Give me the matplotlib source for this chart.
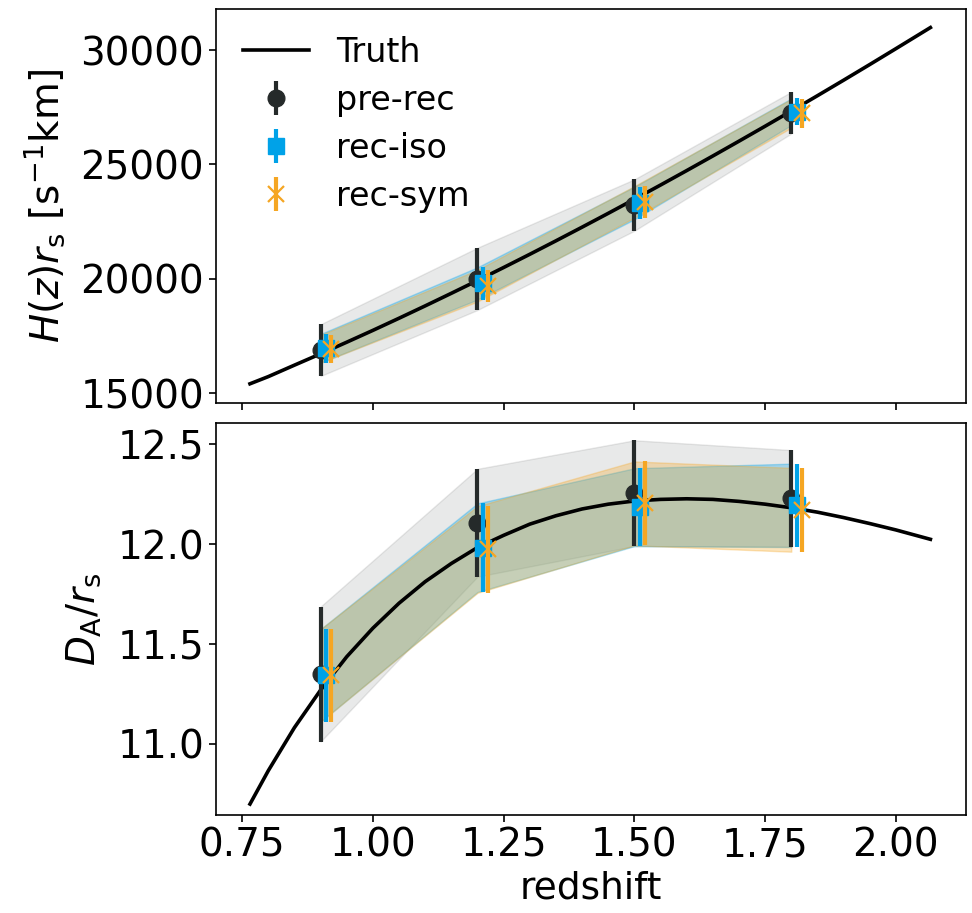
import numpy as np
import matplotlib
matplotlib.use("Agg")
import matplotlib.pyplot as plt

# ---------------- data ----------------
z_bins = [0.9, 1.2, 1.5, 1.8]
z_offsets = [0.0, 0.01, 0.02]          # pre-rec, rec-iso, rec-sym

# truth curves
z_truth = [0.765, 0.80, 0.85, 0.90, 0.95, 1.00, 1.05, 1.10, 1.15, 1.20, 1.25, 1.30,
           1.35, 1.40, 1.45, 1.50, 1.55, 1.60, 1.65, 1.70, 1.75, 1.80, 1.85, 1.90,
           1.95, 2.00, 2.066]
H_truth = [15415, 15729, 16230, 16726, 17233, 17750, 18280, 18820, 19370, 19928,
           20497, 21075, 21663, 22260, 22865, 23479, 24101, 24732, 25371, 26018,
           26672, 27335, 28005, 28682, 29367, 30060, 30983]
DA_truth = [10.698, 10.865, 11.081, 11.269, 11.436, 11.579, 11.704, 11.812, 11.903,
            11.983, 12.044, 12.100, 12.142, 12.176, 12.200, 12.216, 12.224, 12.227,
            12.224, 12.214, 12.200, 12.182, 12.160, 12.133, 12.103, 12.071, 12.024]

labels = ["pre-rec", "rec-iso", "rec-sym"]
colors = ["#252a2a", "#00a2e8", "#f5a623"]
markers = ["o", "s", "x"]
band_alpha = [0.1, 0.3, 0.3]

H_val = [[16884, 20001, 23227, 27260],
         [16964, 19800, 23315, 27300],
         [16942, 19700, 23365, 27233]]
H_err = [[1130, 1361, 1123, 910],
         [627, 706, 712, 583],
         [605, 692, 690, 627]]

DA_val = [[11.349, 12.107, 12.255, 12.229],
          [11.342, 11.982, 12.185, 12.194],
          [11.342, 11.973, 12.204, 12.172]]
DA_err = [[0.338, 0.270, 0.265, 0.242],
          [0.232, 0.222, 0.195, 0.209],
          [0.232, 0.217, 0.210, 0.210]]

# ---------------- plot ----------------
plt.rcParams['font.family'] = ['DejaVu Sans']
FS = 28

fig = plt.figure(figsize=(9.72, 9.13), dpi=100)
ax1 = fig.add_axes([0.2222, 0.5586, 0.7716, 0.4315])
ax2 = fig.add_axes([0.2222, 0.1073, 0.7716, 0.4297], sharex=ax1)

msizes = [12, 11, 11]
mews = [1, 1, 1.6]
for ax, truth, vals, errs in [(ax1, H_truth, H_val, H_err),
                              (ax2, DA_truth, DA_val, DA_err)]:
    ax.plot(z_truth, truth, color="black", lw=2.6, label="Truth", zorder=3)
    zb = np.array(z_bins)
    for i in range(3):
        v = np.array(vals[i]); e = np.array(errs[i])
        ax.fill_between(zb, v - e, v + e, color=colors[i], alpha=band_alpha[i],
                        zorder=1)
    for i in range(3):
        v = np.array(vals[i]); e = np.array(errs[i])
        ax.errorbar(zb + z_offsets[i], v, yerr=e, fmt=markers[i], color=colors[i],
                    ms=msizes[i], mew=mews[i], elinewidth=3,
                    capsize=0, label=labels[i], zorder=4 + i)
    ax.tick_params(axis="both", labelsize=FS, length=5, width=1.2)
    for s in ax.spines.values():
        s.set_linewidth(1.2)

ax1.set_xlim(0.700, 2.134)
ax1.set_ylim(14576, 31792)
ax1.set_yticks([15000, 20000, 25000, 30000])
ax1.tick_params(labelbottom=False)
ax1.set_ylabel(r"$H(z)r_{\rm s}$ [s$^{-1}$km]", fontsize=FS, labelpad=10)
ax1.legend(loc="upper left", frameon=False, fontsize=24, handlelength=2.0,
           labelspacing=0.45, borderaxespad=0.4)

ax2.set_ylim(10.643, 12.608)
ax2.set_yticks([11.0, 11.5, 12.0, 12.5])
ax2.set_xticks([0.75, 1.00, 1.25, 1.50, 1.75, 2.00])
ax2.set_ylabel(r"$D_{\rm A}/r_{\rm s}$", fontsize=FS, labelpad=10)
ax2.set_xlabel("redshift", fontsize=27)

fig.savefig("out.png", dpi=100)
